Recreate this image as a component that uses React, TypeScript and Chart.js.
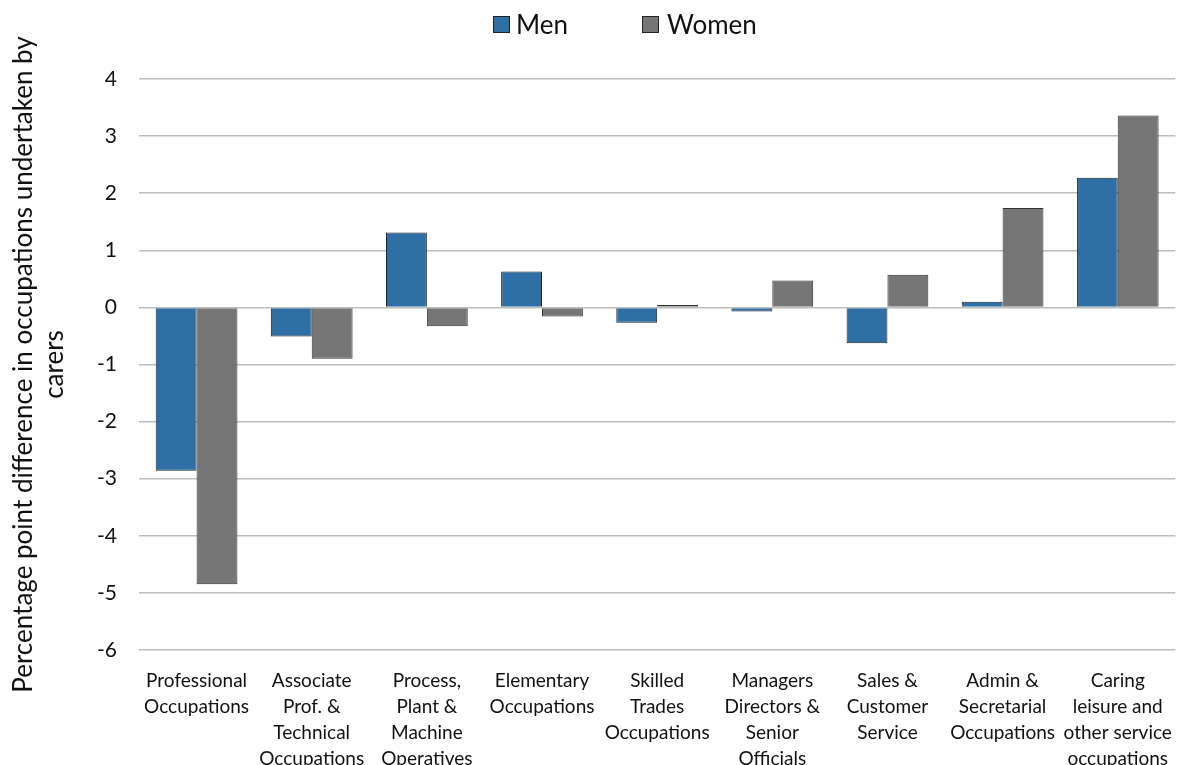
import React, { useEffect, useRef } from "react";
import { Chart, registerables } from "chart.js";

Chart.register(...registerables);

const categories: string[][] = [
  ["Professional", "Occupations"],
  ["Associate", "Prof. &", "Technical", "Occupations"],
  ["Process,", "Plant &", "Machine", "Operatives"],
  ["Elementary", "Occupations"],
  ["Skilled", "Trades", "Occupations"],
  ["Managers", "Directors &", "Senior", "Officials"],
  ["Sales &", "Customer", "Service"],
  ["Admin &", "Secretarial", "Occupations"],
  ["Caring", "leisure and", "other service", "occupations"],
];

const menValues: number[] = [-2.86, -0.51, 1.31, 0.63, -0.27, -0.07, -0.63, 0.1, 2.27];
const womenValues: number[] = [-4.85, -0.9, -0.33, -0.16, 0.04, 0.47, 0.57, 1.74, 3.36];

const seriesNames: string[] = ["Men", "Women"];
const seriesColors: string[] = ["#2E70A5", "#767676"];

const yTitle: string[] = [
  "Percentage point difference in occupations undertaken by",
  "carers",
];

const FONT = "Lato, 'Open Sans', sans-serif";

export default function App() {
  const ref = useRef<HTMLCanvasElement | null>(null);

  useEffect(() => {
    document.body.style.margin = "0";
    if (!ref.current) return;
    const chart = new Chart(ref.current, {
      type: "bar",
      data: {
        labels: categories,
        datasets: [
          {
            label: seriesNames[0],
            data: menValues,
            backgroundColor: seriesColors[0],
            borderColor: "#222222",
            borderWidth: 1,
          },
          {
            label: seriesNames[1],
            data: womenValues,
            backgroundColor: seriesColors[1],
            borderColor: "#333333",
            borderWidth: 1,
          },
        ],
      },
      options: {
        responsive: false,
        animation: false,
        maintainAspectRatio: false,
        datasets: {
          bar: { categoryPercentage: 0.71, barPercentage: 1.0 },
        },
        layout: { padding: { top: 79, right: 2, left: 0, bottom: 0 } },
        plugins: {
          legend: { display: false },
          tooltip: { enabled: false },
        },
        scales: {
          x: {
            grid: { display: false },
            border: { display: false },
            ticks: {
              color: "#111",
              font: { family: FONT, size: 19, lineHeight: 1.37 },
              maxRotation: 0,
              minRotation: 0,
              autoSkip: false,
              padding: 10,
            },
            afterFit: (s: any) => {
              s.height = 115;
            },
          },
          y: {
            min: -6,
            max: 4,
            grid: {
              color: "#BDBDBD",
              lineWidth: 1.5,
              drawTicks: false,
            },
            border: { display: false },
            ticks: {
              stepSize: 1,
              color: "#111",
              font: { family: FONT, size: 21 },
              padding: 22,
            },
            title: {
              display: true,
              text: yTitle,
              color: "#111",
              font: { family: FONT, size: 26, lineHeight: 1.2 },
              padding: { top: 8, bottom: 0 },
            },
            afterFit: (s: any) => {
              s.width = 139;
            },
          },
        },
      },
    });
    return () => chart.destroy();
  }, []);

  return (
    <div style={{ position: "fixed", left: 0, top: 0, width: 1182, height: 765, background: "#fff" }}>
      <canvas ref={ref} width={1182} height={765} style={{ display: "block" }} />
      <div
        style={{
          position: "absolute",
          left: 493,
          top: 8,
          display: "flex",
          alignItems: "center",
          fontFamily: FONT,
          fontSize: 26,
          color: "#111",
        }}
      >
        <span style={{ display: "inline-block", width: 15, height: 15, background: seriesColors[0], border: "1px solid #222", marginRight: 6 }} />
        <span>{seriesNames[0]}</span>
        <span style={{ display: "inline-block", width: 15, height: 15, background: seriesColors[1], border: "1px solid #222", marginLeft: 74, marginRight: 8 }} />
        <span>{seriesNames[1]}</span>
      </div>
    </div>
  );
}
